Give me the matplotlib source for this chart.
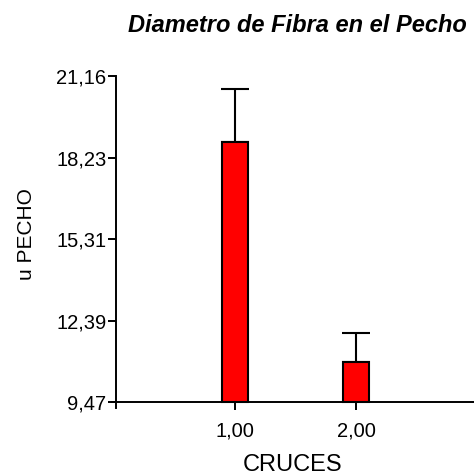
import matplotlib
matplotlib.use("Agg")
import matplotlib.pyplot as plt

plt.rcParams['font.family'] = ['Liberation Sans', 'DejaVu Sans']

cruces = [1.0, 2.0]
medias = [18.79, 10.92]
errores = [1.89, 1.04]
y_ticks = [9.47, 12.39, 15.31, 18.23, 21.16]
x_ticks = [1.0, 2.0]

fig = plt.figure(figsize=(4.74, 4.75), dpi=100)
ax = fig.add_axes([112 / 474, 1 - 408 / 475, 1 - 112 / 474, (408 - 76) / 475])

base = y_ticks[0]
alturas = [m - base for m in medias]
ax.bar(cruces, alturas, bottom=base, width=0.215, color='#ff0000',
       edgecolor='black', linewidth=1.5, zorder=2)
ax.errorbar(cruces, medias, yerr=[[0, 0], errores], fmt='none',
            ecolor='black', elinewidth=1.5, capsize=10, capthick=1.5, zorder=1)

# small overhang of the axes beyond the crossing point
px_y = (21.16 - 9.47) / (401 - 76)
px_x = 1 / 121
ax.set_ylim(base - 6 * px_y, 21.16)
ax.set_xlim(0.0165 - 4 * px_x, 1 + (474 - 235) * px_x)
ax.spines['left'].set_position(('data', 0.0165))
ax.spines['bottom'].set_position(('data', base))
ax.spines['top'].set_visible(False)
ax.spines['right'].set_visible(False)
for s in ['left', 'bottom']:
    ax.spines[s].set_linewidth(1.4)

ax.set_yticks(y_ticks)
ax.set_yticklabels([f"{v:.2f}".replace('.', ',') for v in y_ticks])
ax.set_xticks(x_ticks)
ax.set_xticklabels([f"{v:.2f}".replace('.', ',') for v in x_ticks])
ax.tick_params(axis='both', labelsize=14.5, width=1.4, length=6, direction='out')
ax.tick_params(axis='y', pad=1)
ax.tick_params(axis='x', pad=8)

ax.set_xlabel("CRUCES", fontsize=17, labelpad=10)
ax.set_ylabel("u PECHO", fontsize=15)
ax.yaxis.set_label_coords(-0.21, 0.523)
fig.text(297 / 474, 1 - 26 / 475, "Diametro de Fibra en el Pecho", fontsize=17,
         fontweight='bold', fontstyle='italic', ha='center', va='center')

fig.savefig("out.png", dpi=100)
